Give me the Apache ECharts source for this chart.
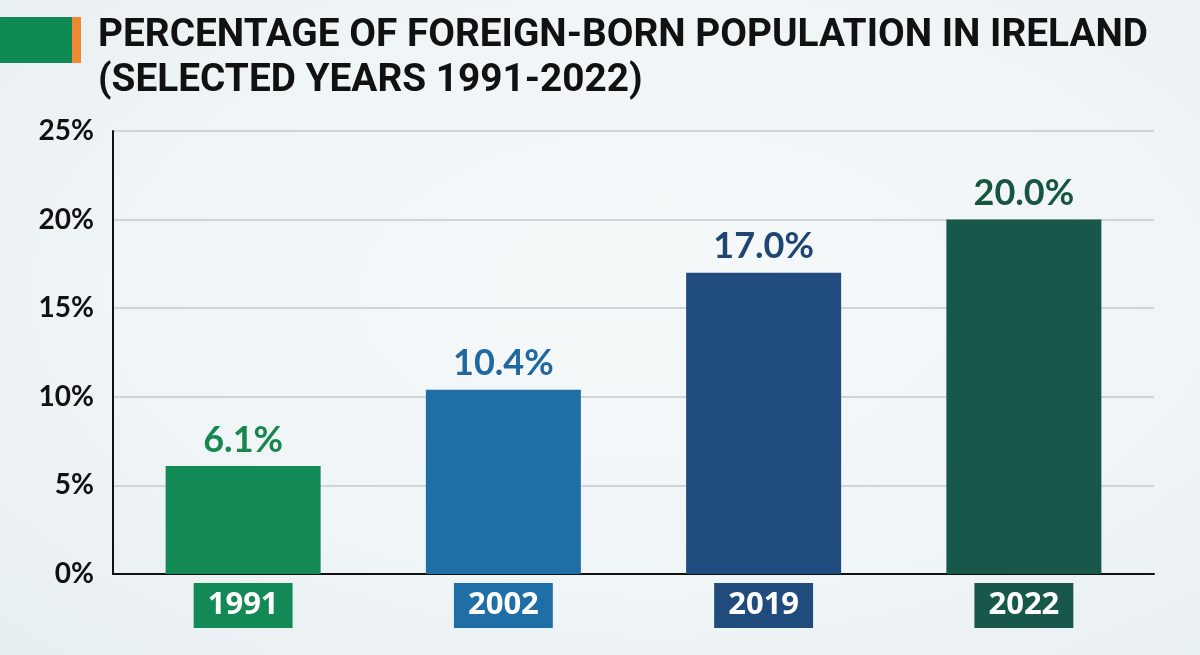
<!DOCTYPE html>
<html>
<head>
<meta charset="utf-8">
<script src="https://cdn.jsdelivr.net/npm/echarts@6/dist/echarts.min.js"></script>
<style>
html,body{margin:0;padding:0;width:1200px;height:655px;overflow:hidden;}
#main{width:1200px;height:655px;background:radial-gradient(ellipse at 55% 45%, #f6f9fa 0%, #eff4f6 60%, #e7eef1 100%);}
</style>
</head>
<body>
<div id="main"></div>
<script>
const categories = ['1991', '2002', '2019', '2022'];
const values = [6.1, 10.4, 17.0, 20.0];
const barColors = ['#138a55', '#1f6ea6', '#1f4c7c', '#17584a'];
const labelColors = ['#17874f', '#1f68a0', '#1f4670', '#16553f'];
const titleLines = ['PERCENTAGE OF FOREIGN-BORN POPULATION IN IRELAND', '(SELECTED YEARS 1991-2022)'];

const titleFont = 'bold 39px Roboto';
const mc = document.createElement('canvas').getContext('2d');
mc.font = titleFont;
const titleScale = 1050 / mc.measureText(titleLines[0]).width;

const chart = echarts.init(document.getElementById('main'), null, {renderer: 'canvas'});

const rich = {};
categories.forEach((c, i) => {
  rich['c' + i] = {
    backgroundColor: barColors[i],
    color: '#ffffff',
    fontFamily: 'Open Sans',
    fontWeight: 'bold',
    fontSize: 31,
    lineHeight: 33,
    padding: [7, 14, 7, 14]
  };
});

chart.setOption({
  backgroundColor: 'transparent',
  graphic: [
    {type: 'rect', left: 0, top: 17, shape: {width: 72, height: 46}, style: {fill: '#0e8a55'}},
    {type: 'rect', left: 72, top: 17, shape: {width: 9, height: 46}, style: {fill: '#f0892e'}},
    {type: 'text', x: 98, y: 17, scaleX: titleScale,
     style: {text: titleLines[0], font: titleFont, fill: '#111111', textVerticalAlign: 'top'}},
    {type: 'text', x: 98, y: 62, scaleX: titleScale,
     style: {text: titleLines[1], font: titleFont, fill: '#111111', textVerticalAlign: 'top'}}
  ],
  grid: {left: 113, right: 46, top: 131, bottom: 81, containLabel: false},
  xAxis: {
    type: 'category',
    data: categories,
    axisLine: {show: true, lineStyle: {color: '#111111', width: 2}},
    axisTick: {show: false},
    axisLabel: {
      margin: 15,
      formatter: (v, i) => '{c' + i + '|' + v + '}',
      rich: rich
    }
  },
  yAxis: {
    type: 'value',
    min: 0,
    max: 25,
    interval: 5,
    axisLine: {show: true, lineStyle: {color: '#111111', width: 2}},
    axisTick: {show: false},
    axisLabel: {
      margin: 19,
      formatter: '{value}%',
      fontFamily: 'Lato',
      fontWeight: 'bold',
      fontSize: 28,
      color: '#111111'
    },
    splitLine: {show: true, lineStyle: {color: '#c3cacd', width: 1.5}}
  },
  series: [{
    type: 'bar',
    barWidth: 155,
    data: values.map((v, i) => ({
      value: v,
      itemStyle: {color: barColors[i]},
      label: {color: labelColors[i]}
    })),
    label: {
      show: true,
      position: 'top',
      distance: 8,
      formatter: p => p.value.toFixed(1) + '%',
      fontFamily: 'Lato',
      fontWeight: 'bold',
      fontSize: 36
    },
    animation: false
  }],
  animation: false
});
</script>
</body>
</html>
